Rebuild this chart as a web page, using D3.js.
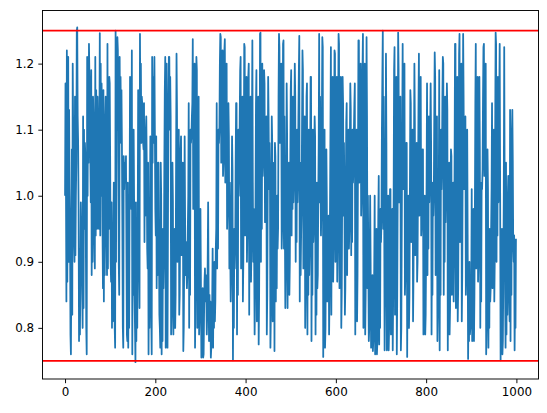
<!DOCTYPE html>
<html><head><meta charset="utf-8">
<script src="https://cdn.jsdelivr.net/npm/d3@7"></script>
<style>body{margin:0;background:#fff}svg{display:block}</style>
</head><body><svg id="c" width="547" height="413"></svg>
<script>
const values = [
1.00,1.17,1.02,0.84, 1.22,0.87,1.05,1.21,0.90, 1.13,1.01,0.95,0.79, 0.76,0.90,1.07,0.82, 1.20,1.10,0.95,0.93,0.90,
1.15,0.91,1.00,1.05, 1.25,1.255,1.12,1.08,0.98, 0.78,0.92,0.79,0.88, 0.99,0.95,0.92,0.85,0.80, 1.12,0.83,1.10,0.95,
1.08,1.06,0.94,0.80,0.76, 1.21,1.00,1.15,1.05, 1.23,1.18,1.12,1.06,0.99, 1.19,0.88,1.05,0.90,1.15, 1.12,1.08,0.93,0.89,
1.21,0.94,1.16,1.05,0.95, 1.15,1.10,1.00,0.95, 1.08,1.246,0.94,1.20,1.00, 1.17,1.10,0.95,0.86, 1.16,0.84,1.05,0.88,1.12,
1.15,1.02,0.93,0.88, 1.23,0.89,1.12,0.95,1.18, 1.17,1.05,0.90,0.87, 0.99,0.80,0.93,0.81,0.95, 1.02,0.98,0.80,0.77,
1.25,0.90,1.20,1.10,1.24, 1.22,1.05,0.90,0.85, 1.21,1.08,1.18,1.10,1.16, 1.08,0.95,0.80,0.77, 1.06,1.01,1.05,1.02,1.04,
1.06,0.92,0.79,0.78, 1.02,0.77,0.88,0.80,0.99, 1.18,1.10,1.02,0.98, 1.22,0.76,0.95,0.85,1.10, 0.99,0.85,0.80,0.748,
0.99,0.78,0.93,0.80,0.95, 1.16,1.10,0.90,0.83, 1.245,1.10,1.20,1.08,1.15, 1.14,1.12,1.08,1.07, 1.14,0.93,1.08,0.97,1.10,
1.12,1.05,0.92,0.89, 1.05,0.76,0.90,0.80,0.98, 1.09,0.95,0.82,0.76, 1.21,1.05,1.18,1.08,1.15, 1.21,1.10,0.98,0.94,
1.09,0.86,1.00,0.88,1.05, 1.05,0.93,0.82,0.80,
0.77,1.05, 1.00,0.76,0.90,0.78,0.95, 0.86,0.90,1.05,1.16, 1.21,0.77,1.00,1.20,0.80, 0.77,0.95,1.15,1.21,
1.21,1.10,1.18,1.12, 0.79,0.82,0.95,1.05, 0.99,0.79,0.92,0.80,0.95, 0.80,0.85,1.05,1.215, 1.13,0.90,1.05,0.93,1.10,
0.82,0.85,0.95,1.07, 1.09,0.91,1.03,0.93,1.05, 0.765,0.80,0.90,1.09, 0.96,0.88,0.93,0.89, 0.86,0.88,0.95,1.00,
1.14,0.80,1.00,0.85,1.10, 1.08,1.09,1.12,1.14, 1.237,0.98,1.15,1.00,1.20, 0.77,0.85,1.00,1.21, 1.19,0.80,1.05,0.90,1.15,
0.79,0.82,0.90,0.98, 0.87,0.755,0.85,0.78,0.86, 0.755,0.76,0.82,0.87, 0.89,0.84,0.88,0.85, 0.79,0.82,0.90,0.99,
0.87,0.78,0.85,0.79,0.84, 0.755,0.77,0.80,0.84, 0.92,0.77,0.88,0.80,0.90, 0.81,0.84,0.92,0.95, 1.14,0.89,1.05,0.92,1.10,
1.08,1.10,1.20,1.245, 1.24,1.05,1.18,1.08,1.22, 1.03,1.05,1.15,1.22, 1.237,1.02,1.18,1.05,1.20, 0.95,0.98,1.08,1.14,
1.09,0.89,1.02,0.92, 0.84,0.88,0.98,1.09, 1.04,0.751,0.90,0.80,0.95, 0.89,0.92,1.05,1.14, 1.14,0.79,1.00,0.85,1.10,
1.00,1.03,1.12,1.19, 1.21,0.89,1.10,0.95,1.15, 0.84,0.90,1.05,1.23, 1.225,0.94,1.10,0.98,1.18, 0.90,0.95,1.08,1.18,
1.20,0.82,1.00,0.88,1.15, 0.87,0.92,1.10,1.235, 1.02,0.90,0.98,0.91, 0.79,0.85,1.00,1.14, 1.19,0.81,1.05,0.88,1.15,
0.775,0.85,1.00,1.245, 1.247,0.90,1.15,0.95,1.20, 1.03,1.05,1.15,1.19, 1.17,0.96,1.10,1.00,1.12, 0.79,0.85,1.00,1.18,
1.12,1.01,1.08,1.03, 0.77,0.82,0.95,1.12, 1.08,0.81,0.98,0.85,1.05,
0.765,1.08, 1.06,0.84,0.98,0.86,1.00, 0.92,0.95,1.15,1.245, 1.225,1.08,1.18,1.10,1.20, 0.92,0.95,1.10,1.23,
1.235,0.92,1.12,0.96, 0.83,0.88,1.00,1.17, 1.09,0.83,0.98,0.86,1.05, 0.85,0.90,1.05,1.16, 1.19,0.94,1.10,0.98,1.15,
0.99,1.02,1.12,1.20, 1.15,0.90,1.05,0.93,1.10, 0.99,1.02,1.12,1.19, 1.242,0.84,1.05,0.88, 0.94,0.98,1.10,1.22,
1.19,0.89,1.05,0.92,1.12, 0.80,0.85,1.00,1.15, 1.17,0.79,1.00,0.85,1.10, 0.88,0.92,1.05,1.18, 1.18,0.78,0.95,0.85,1.10,
0.93,0.95,1.05,1.12, 1.09,0.79,0.95,0.82,1.02, 0.86,0.88,1.00,1.08, 1.245,0.99,1.15,1.02, 0.94,0.98,1.12,1.24,
1.225,0.756,0.95,0.80,1.10, 0.77,0.80,0.92,1.07, 0.99,0.84,0.95,0.86,0.97, 0.79,0.85,0.98,1.10, 1.225,0.82,1.05,0.88,1.18,
0.87,0.92,1.08,1.22, 1.215,0.90,1.10,0.95,1.18, 0.87,0.92,1.10,1.245, 1.23,0.86,1.05,0.90,1.18, 0.80,0.85,1.00,1.18,
1.14,0.97,1.08,1.00, 0.82,0.86,1.00,1.11, 1.14,0.88,1.05,0.92,1.10, 0.92,0.95,1.08,1.17, 1.13,0.91,1.05,0.93,1.10,
1.02,1.04,1.10,1.14, 1.17,0.79,1.00,0.85,1.10, 0.81,0.88,1.05,1.235, 1.235,1.02,1.15,1.05,1.20, 0.97,1.00,1.10,1.19,
1.245,0.80,1.05,0.88,1.20, 0.79,0.85,1.00,1.24, 1.12,0.86,1.00,0.90, 0.78,0.80,0.90,1.00, 0.90,0.77,0.85,0.79,0.88,
0.765,0.78,0.84,0.89, 1.00,0.76,0.90,0.80,0.95, 0.76,0.78,0.88,0.97, 1.03,0.775,0.92,0.80,0.98, 0.93,0.96,1.10,1.18,
1.25,0.95,1.15,1.00, 0.766,0.85,1.00,1.215, 1.08,0.766,0.95,0.80,1.00,
0.766,0.80,0.90,1.01, 1.01,0.79,0.92,0.82,0.98, 0.766,0.85,1.00,1.19, 1.225,0.82,1.05,0.88,1.18, 0.76,0.85,1.00,1.247,
1.19,0.99,1.12,1.02,1.15, 0.766,0.80,0.95,1.10, 1.23,1.01,1.15,1.05,1.20, 0.85,0.88,1.00,1.08, 1.08,0.756,0.92,0.80,1.00,
0.80,0.85,1.00,1.16, 1.14,0.93,1.08,0.96,1.10, 0.81,0.88,1.05,1.20, 1.11,0.91,1.05,0.94,1.08, 0.87,0.90,1.02,1.13,
1.215,0.97,1.12,1.00,1.18, 0.94,0.96,1.03,1.07, 1.07,0.79,0.95,0.82,1.00, 0.79,0.82,0.92,1.02, 1.17,0.88,1.05,0.92,1.12,
0.99,1.02,1.10,1.17, 1.08,0.79,0.95,0.85,1.02, 0.97,1.00,1.12,1.217, 1.18,0.88,1.05,0.92,1.12, 0.78,0.82,0.90,1.00,
1.19,0.766,1.00,0.85,1.10, 1.01,1.04,1.15,1.21, 1.20,0.85,1.05,0.90,1.15, 0.96,1.00,1.10,1.17, 1.13,0.766,0.95,0.82,1.05,
0.79,0.83,0.95,1.07, 1.06,0.85,1.00,0.88,1.02, 0.84,0.90,1.05,1.23, 1.23,0.83,1.05,0.88,1.18, 0.81,0.86,1.00,1.215,
1.245,0.93,1.12,0.97,1.20, 0.81,0.88,1.05,1.245, 1.15,1.01,1.10,1.03,1.12, 0.85,0.88,1.00,1.10, 0.94,0.753,0.85,0.78,0.90,
0.79,0.80,0.84,0.86, 1.01,0.78,0.92,0.80,0.98, 0.78,0.85,0.98,1.14, 1.23,0.89,1.08,0.93,1.18, 0.87,0.90,1.05,1.18,
1.07,0.80,0.95,0.84,1.02, 1.01,1.04,1.15,1.225, 1.23,1.03,1.15,1.06,1.20, 0.76,0.80,0.92,1.07, 1.01,0.77,0.90,0.80,0.95,
0.84,0.86,0.95,1.01, 1.14,0.86,1.05,0.90,1.10, 0.84,0.90,1.10,1.247, 1.23,0.90,1.10,0.94,1.18, 0.99,1.02,1.15,1.23,
1.00,0.751,0.90,0.78,0.95, 0.76,0.78,0.88,1.00,
1.225,1.00,0.85,0.77, 1.05,0.79,0.95,0.82,1.00, 1.03,0.95,0.84,0.81, 1.13,0.78,1.00,0.85,1.10, 1.13,1.05,0.92,0.90,
0.94,0.766,0.85,0.80,0.935
];
const xTicks = [0, 200, 400, 600, 800, 1000];
const yTicks = [0.8, 0.9, 1.0, 1.1, 1.2];
const limitLines = [1.25, 0.75];
const xDomain = [-49.95, 1048.95];
const yDomain = [0.7226, 1.2804];

const L = 42.5, R = 538.5, T = 10.5, B = 379;
const svg = d3.select('#c');
const x = d3.scaleLinear().domain(xDomain).range([L, R]);
const y = d3.scaleLinear().domain(yDomain).range([B, T]);

svg.append('defs').append('clipPath').attr('id', 'clip')
  .append('rect').attr('x', L).attr('y', T).attr('width', R - L).attr('height', B - T);

const plot = svg.append('g').attr('clip-path', 'url(#clip)');
plot.append('path')
  .datum(values)
  .attr('fill', 'none')
  .attr('stroke', '#1f77b4')
  .attr('stroke-width', 1.78)
  .attr('stroke-linejoin', 'round')
  .attr('stroke-linecap', 'butt')
  .attr('d', d3.line().x((d, i) => x(i)).y(d => y(d)));

plot.selectAll('line.limit').data(limitLines).enter().append('line')
  .attr('class', 'limit')
  .attr('x1', L).attr('x2', R)
  .attr('y1', d => y(d)).attr('y2', d => y(d))
  .attr('stroke', '#ff0000').attr('stroke-width', 1.78);

const fontSize = '11.9px';
const fam = '"DejaVu Sans", sans-serif';

const xAxis = d3.axisBottom(x).tickValues(xTicks).tickSize(4.2).tickPadding(4.2).tickFormat(d3.format('d'));
const gx = svg.append('g').attr('transform', `translate(0,${B})`).call(xAxis);
const yAxis = d3.axisLeft(y).tickValues(yTicks).tickSize(4.2).tickPadding(4.2).tickFormat(d3.format('.1f'));
const gy = svg.append('g').attr('transform', `translate(${L},0)`).call(yAxis);
[gx, gy].forEach(g => {
  g.select('.domain').remove();
  g.selectAll('.tick line').attr('stroke', '#000').attr('stroke-width', 0.95);
  g.selectAll('.tick text').attr('fill', '#000').style('font-size', fontSize).style('font-family', fam);
});

svg.append('rect').attr('x', L).attr('y', T).attr('width', R - L).attr('height', B - T)
  .attr('fill', 'none').attr('stroke', '#000').attr('stroke-width', 0.95);
</script></body></html>
